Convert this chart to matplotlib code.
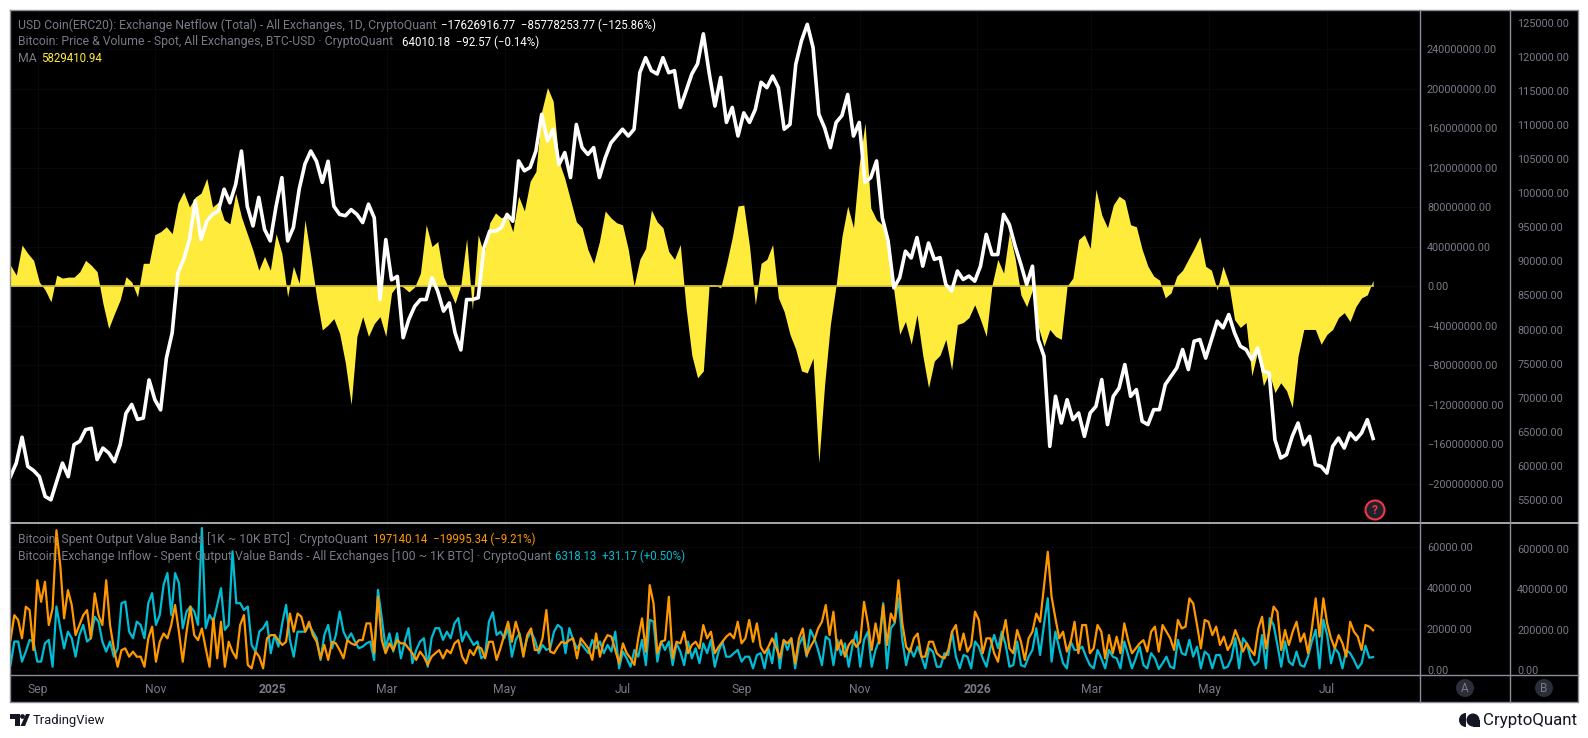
import matplotlib
matplotlib.use('Agg')
import matplotlib.pyplot as plt
from matplotlib.patches import Circle, Polygon, Wedge
import numpy as np
import pandas as pd

plt.rcParams['font.family'] = ['Roboto', 'DejaVu Sans']

W, H = 1588, 738

# 3-day readings, BTC price in USD
btc_price = [
    58440, 60400, 64200, 59900, 59300, 58400, 55500, 55000, 57700, 60400, 58400, 63100, 63600, 65300, 65500, 60900,
    62600, 61900, 60600, 63100, 67700, 69000, 66800, 67000, 72600, 69700, 68200, 75800, 79500, 88300, 90300, 93200,
    98900, 93200, 95900, 96900, 97400, 100600, 98600, 101300, 106200, 98100, 95200, 99400, 94700, 93000, 98100, 102300,
    93000, 95000, 100600, 104300, 106200, 104700, 101600, 104700, 98100, 96900, 96700, 97600, 96900, 95700, 98400, 96400,
    84400, 93200, 87300, 87800, 78800, 81500, 83400, 84400, 84400, 87600, 85600, 82700, 83900, 79500, 77000, 84400, 84400,
    84660, 92000, 94450, 94450, 94950, 96900, 95900, 104750, 103300, 103800, 106200, 111600, 107700, 109400, 104200, 105970,
    102300, 110100, 106700, 105700, 106700, 102300, 105200, 107400, 108400, 109400, 108400, 109400, 117700, 119900, 118000, 117500,
    119900, 117700, 118000, 112600, 115000, 117500, 119000, 123400, 117700, 112800, 117000, 110400, 112600, 108400, 111800, 110400,
    112300, 116300, 115500, 117200, 115500, 109400, 110100, 118900, 122400, 124800, 121400, 111600, 109600, 106700, 110400, 111400,
    114500, 108400, 110400, 101600, 102300, 104750, 96400, 93000, 86100, 87600, 91500, 90500, 93500, 89300, 92700, 90300,
    90550, 86600, 85650, 88580, 87350, 87850, 87100, 89300, 93970, 91000, 91000, 96900, 95400, 92250, 89550, 86600,
    89300, 78530, 76080, 62850, 70200, 66280, 69700, 66770, 67750, 64320, 67750, 68730, 72650, 66040, 70200, 71400,
    74860, 70200, 71180, 66530, 66040, 68240, 68240, 71920, 73140, 74370, 77060, 74120, 78285, 78530, 75800, 78530,
    81225, 80250, 82200, 79500, 77550, 77060, 75590, 77300, 73880, 73630, 63830, 61140, 61630, 64320, 66280, 63100,
    64320, 60160, 59910, 58930, 62850, 64080, 62600, 64810, 63830, 64810, 66770, 64010,
]

# 3-day readings, USDC netflow moving average in millions
netflow_ma = [
    21, 11, 41.5, 33, 26, 4, -4, -16, 11, 8, 9, 9, 14.5, 26, 21, 14.5,
    -17.5, -43, -28, -14, 9.5, 4, -11, 23, 23, 52, 55, 60, 53, 84, 95.5, 80,
    90, 94, 109, 80, 85, 67, 63, 94, 70, 53, 36, 16, 30, 16, 53, 33,
    -11, 20, 2.7, 67, 30, -11, -44.5, -39.5, -33, -48, -78, -120, -51, -31, -51, -38,
    -31, -51, -7, 1, -1, -6, -1, 13, 62, 40, 45, 9.5, -4, -17.5, 1, 48, -24,
    52, 32, 64, 74, 69, 72, 55, 91, 76, 106, 116, 177, 201, 187, 126, 109,
    87, 65, 59, 37, 23, 45, 76, 69, 64, 62, 37, 0, 27, 38, 77, 65,
    59, 35, 27, 42, -22, -70, -93, -86, 1, 1, -2, 22, 49, 81, 82, 40,
    -19, 23, 27, 42, -12, -26, -49, -64, -86, -88, -73, -179, -100, -39, 1, 50,
    81, 59, 123, 165, 79, 67, 62, 38, -5, -49, -36, -59, -29, -70, -103, -76,
    -70, -54, -85, -39, -37, -32, -19, -34, -51, 1, 27, 13, 54, 28, -9, -21,
    -4, -41, -61, -44, -51, -54, 0, 8, 47, 52, 38, 98, 72, 59, 82, 91,
    87, 62, 60, 37, 20, 10, 6, -12, -7, 10, 16, 27, 38, 50, 20, 16,
    -4, 20, 3, -34, -42, -37, -91, -66, -101, -88, -108, -98, -106, -123, -71, -44,
    -44, -44, -59, -49, -44, -32, -27, -36, -21, -12, -9, 5.8,
]

# 2-day readings, spent output 1K-10K BTC in thousands
spent_1k_10k = [
    148, 272, 248, 157, 314, 297, 99, 445, 338, 437, 223, 305, 693, 520, 256, 396, 322, 173, 223, 272, 297, 157, 380, 272,
    223, 445, 223, 107, 16, 99, 107, 66, 91, 66, 66, 16, 157, 215, 41, 140, 181, 157, 223, 322, 190, 41, 190, 314,
    173, 148, 206, 107, 16, 256, 58, 239, 16, 140, 91, 58, 223, 272, 25, 8, 91, 66, 8, 157, 173, 173, 148, 124,
    140, 280, 190, 280, 264, 190, 239, 173, 140, 58, 124, 50, 140, 132, 99, 58, 148, 132, 124, 148, 148, 231, 231, 83,
    363, 148, 83, 132, 99, 148, 132, 132, 107, 83, 50, 91, 66, 25, 66, 83, 99, 58, 99, 83, 132, 148, 66, 33, 99, 74,
    115, 107, 58, 140, 140, 50, 107, 173, 239, 140, 239, 173, 66, 173, 206, 99, 99, 157, 297, 91, 83, 115, 140, 132,
    148, 157, 58, 157, 132, 107, 50, 181, 66, 140, 173, 165, 99, 33, 132, 83, 58, 25, 157, 256, 91, 421, 330, 83,
    140, 148, 363, 58, 140, 132, 190, 83, 124, 140, 107, 223, 157, 190, 83, 115, 140, 165, 181, 157, 239, 132, 157, 248,
    140, 231, 115, 83, 115, 157, 115, 58, 148, 132, 157, 33, 157, 206, 74, 115, 148, 206, 239, 322, 173, 289, 99, 148,
    66, 124, 148, 115, 140, 338, 231, 99, 231, 132, 322, 124, 280, 239, 445, 231, 115, 91, 157, 181, 66, 66, 140, 140, 83,
    66, 58, 99, 190, 223, 99, 181, 91, 124, 289, 248, 83, 157, 157, 83, 41, 157, 248, 107, 83, 198, 140, 50, 157,
    190, 280, 239, 413, 586, 363, 256, 157, 190, 91, 140, 239, 83, 223, 223, 83, 107, 223, 190, 58, 173, 83, 165, 83,
    231, 148, 83, 107, 132, 148, 91, 190, 215, 91, 223, 190, 157, 99, 248, 206, 215, 355, 330, 223, 107, 248, 239, 173,
    215, 124, 165, 99, 132, 198, 148, 91, 132, 99, 74, 206, 264, 107, 206, 314, 289, 99, 198, 124, 190, 239, 140, 181,
    83, 206, 355, 165, 355, 231, 157, 107, 173, 132, 66, 239, 190, 165, 99, 223, 215, 197,
]

# 2-day readings, exchange inflow 100-1K BTC in thousands
inflow_100_1k = [
    2.4, 13.9, 13.9, 4.1, 9, 14.7, 13.9, 4.1, 4.1, 13, 14.7, 1.6, 31, 20.4, 10.6, 18.7, 15.5, 6.5, 17.1, 22, 13.9, 15.5, 26, 23.6,
    13.9, 9, 13.9, 6.5, 10.6, 32.6, 33.4, 18.7, 15.5, 23.6, 22, 15.5, 32.6, 37.5, 22, 26.9, 41.6, 47.3, 26.9, 47.3, 42.4, 20.4, 28.5, 31,
    28.5, 22, 69.3, 20.4, 26.9, 23.6, 31.8, 39.9, 19.6, 22, 57.9, 32.6, 32.6, 29.3, 31, 12.2, 9, 18.7, 20.4, 23.6, 8.2, 17.1, 11.4, 22.8,
    31.8, 14.7, 6.5, 18.7, 18.7, 18.7, 22, 18.7, 15.5, 4.9, 17.1, 22, 10.6, 17.1, 28.5, 18.7, 14.7, 17.9, 13.9, 10.6, 11.4, 13, 13.9, 4.9,
    39.1, 25.3, 10.6, 17.9, 9, 17.9, 5.7, 13.9, 20.4, 3.3, 9.8, 13.9, 15.5, 1.6, 15.5, 20.4, 20.4, 14.7, 18.7, 15.5, 22.8, 25.3, 13.9, 18.7, 15.5, 12.2,
    13.9, 5.7, 7.3, 23.6, 28.2, 17.1, 18.7, 15.5, 20.4, 6.5, 14.7, 17.9, 8.2, 15.5, 18.7, 14.7, 8.2, 12.2, 9.8, 10.6, 18.7, 22, 20.4, 8.2,
    20.4, 14.7, 10.6, 13, 10.6, 8.2, 14.7, 10.6, 13.9, 8.2, 12.2, 9, 18.7, 0.8, 9, 5.7, 1.6, 9.8, 6.5, 14.7, 2.4, 24.5, 23.6, 4.1,
    13.9, 9.8, 13.9, 2.4, 13, 9, 2.4, 13.9, 5.7, 10.6, 3.3, 13, 8.2, 14.7, 1.6, 9, 13.9, 6.5, 6.5, 8.2, 9.8, 4.1, 6.5, 6.5,
    0.8, 7.3, 8.2, 0.8, 10.6, 3.3, 17.9, 0.8, 14.7, 9.8, 15.5, 0.8, 12.2, 16.3, 6.5, 19.6, 15.5, 9.8, 2.4, 16.3, 14.7, 2.4, 14.7, 7.3,
    13, 1.6, 12.2, 18.7, 1.6, 14.7, 18.7, 1.6, 9.8, 14.7, 32.6, 0.8, 20.4, 22.8, 35, 14.7, 2.4, 10.6, 6.5, 11.4, 6.5, 0.8, 10.6, 9, 1.6,
    1.6, 8.2, 7.3, 18.7, 6.5, 0.8, 7.3, 6.5, 0.8, 13.9, 11.4, 5.7, 1.6, 10.6, 17.1, 10.6, 18.7, 12.2, 1.6, 2.4, 13.9, 2.4, 1.6,
    6.5, 9.8, 20.4, 7.3, 22, 35, 4.1, 18.7, 10.6, 3.3, 0.8, 13.9, 9.8, 9.8, 11.4, 6.5, 2.4, 0.8, 9.8, 5.7, 0.8, 9.8, 6.5, 5.7,
    0.8, 13.9, 7.3, 0.8, 5.7, 11.4, 2.4, 0.8, 8.2, 5.7, 0.5, 3.3, 6.5, 1.6, 0.8, 14.7, 8.2, 7.3, 14.7, 6.5, 11.4, 0.8, 9, 7.3,
    0.8, 7.3, 7.3, 0.8, 1.6, 5.7, 15.5, 0.8, 15.5, 13, 5.7, 2.4, 4.1, 17.1, 0.8, 25.3, 22, 12.2, 1.6, 13.9, 4.1, 2.4, 9, 2.4,
    1.6, 6.5, 13.9, 19.6, 0.8, 24.5, 17.1, 3.3, 10.6, 8.2, 0.8, 9.8, 8.2, 4.9, 0.8, 3.3, 11.9, 6.0, 6.3,
]

month_ticks = ['2024-09-01', '2024-11-01', '2025-01-01', '2025-03-01', '2025-05-01', '2025-07-01',
               '2025-09-01', '2025-11-01', '2026-01-01', '2026-03-01', '2026-05-01', '2026-07-01']
month_labels = ['Sep', 'Nov', '2025', 'Mar', 'May', 'Jul', 'Sep', 'Nov', '2026', 'Mar', 'May', 'Jul']
price_ticks = list(range(55000, 125001, 5000))
netflow_ticks = [v * 1e6 for v in range(-200, 241, 40)]
inflow_ticks = [0, 20000, 40000, 60000]
spent_ticks = [0, 200000, 400000, 600000]

GRAY = '#787b86'
GRID = '#08080a'
WHITE = '#ffffff'
YELLOW = '#ffeb3b'
ORANGE = '#ff9800'
CYAN = '#00bcd4'

START = pd.Timestamp('2024-08-18')
END = pd.Timestamp('2026-07-25')


def series_dates(values):
    return pd.date_range(START, END, periods=len(values))


def fmt(v):
    return f'{v:.2f}'.replace('-', '\u2212')


def rect_px(left, top, right, bottom):
    return [left / W, 1 - bottom / H, (right - left) / W, (bottom - top) / H]


def style_right(ax, ticks, pad):
    ax.yaxis.tick_right()
    ax.set_yticks(ticks)
    ax.set_yticklabels([fmt(t) for t in ticks])
    ax.tick_params(axis='y', length=0, pad=pad, labelsize=7.8, labelcolor=GRAY)
    ax.grid(False)
    for s in ax.spines.values():
        s.set_visible(False)


fig = plt.figure(figsize=(W / 100, H / 100), dpi=100, facecolor='white')

# black chart background
bg = fig.add_axes([0, 0, 1, 1], zorder=0)
bg.set_xlim(0, W)
bg.set_ylim(H, 0)
bg.axis('off')
bg.fill_between([10, 1578], 10, 702, color='black', lw=0)

x_left = START + pd.Timedelta(days=-0.26)
x_right = START + pd.Timedelta(days=730.3)

# top panel
ax_net = fig.add_axes(rect_px(10, 10, 1420, 523), zorder=1, facecolor='black')
net = np.array(netflow_ma) * 1e6
ax_net.fill_between(series_dates(net), 0, net, color=YELLOW, lw=0)
ax_net.plot(series_dates(net), np.zeros(len(net)), color='#d8c733', lw=1.2)
ax_net.set_xlim(x_left, x_right)
ax_net.set_ylim(-240e6, 279.5e6)
style_right(ax_net, netflow_ticks, 5)
ax_net.set_xticks(pd.to_datetime(month_ticks))
ax_net.tick_params(axis='x', length=0, labelbottom=False)
ax_net.grid(True, color=GRID, lw=0.8)
ax_net.set_axisbelow(True)

ax_price = fig.add_axes(rect_px(10, 10, 1420, 523), zorder=2)
ax_price.patch.set_visible(False)
ax_price.plot(series_dates(btc_price), btc_price, color=WHITE, lw=2.6, solid_joinstyle='round')
ax_price.set_xlim(x_left, x_right)
ax_price.set_ylim(51600, 126900)
style_right(ax_price, price_ticks, 70)
ax_price.set_xticks([])

# bottom panel
ax_in = fig.add_axes(rect_px(10, 523, 1420, 675), zorder=1, facecolor='black')
inflow = np.array(inflow_100_1k) * 1000
ax_in.plot(series_dates(inflow), inflow, color=CYAN, lw=1.6)
ax_in.set_xlim(x_left, x_right)
ax_in.set_ylim(-2440, 71736)
style_right(ax_in, inflow_ticks, 5)
ax_in.set_xticks(pd.to_datetime(month_ticks))
ax_in.set_xticklabels(month_labels)
ax_in.tick_params(axis='x', length=0, pad=6, labelsize=8.7, labelcolor=GRAY)
for lab in ax_in.get_xticklabels():
    if lab.get_text().startswith('20'):
        lab.set_fontweight('bold')
ax_in.grid(True, color=GRID, lw=0.8)
ax_in.set_axisbelow(True)

ax_spent = fig.add_axes(rect_px(10, 523, 1420, 675), zorder=2)
ax_spent.patch.set_visible(False)
spent = np.array(spent_1k_10k) * 1000
ax_spent.plot(series_dates(spent), spent, color=ORANGE, lw=1.6)
ax_spent.set_xlim(x_left, x_right)
ax_spent.set_ylim(-24790, 728800)
style_right(ax_spent, spent_ticks, 70)
ax_spent.set_xticks([])

# overlay in pixel coordinates: frame, legends, icons, logos
ov = fig.add_axes([0, 0, 1, 1], zorder=5)
ov.set_xlim(0, W)
ov.set_ylim(H, 0)
ov.axis('off')
ov.patch.set_visible(False)

frame = '#8b8e99'
ov.plot([10, 1578, 1578, 10, 10], [10, 10, 702, 702, 10], color=frame, lw=1)
ov.plot([10, 1578], [523, 523], color='#d1d4dc', lw=1.1)
ov.plot([10, 1578], [675, 675], color=frame, lw=1)
ov.plot([1420, 1420], [10, 702], color=frame, lw=1)
ov.plot([1510, 1510], [10, 702], color=frame, lw=1)


def legend(x, y, s, c=GRAY, fs=8.8):
    ov.text(x, y, s, color=c, fontsize=fs, va='center', ha='left')


legend(18, 25, 'USD Coin(ERC20): Exchange Netflow (Total) - All Exchanges, 1D, CryptoQuant')
legend(441, 25, '\u221217626916.77  \u221285778253.77 (\u2212125.86%)', WHITE, 8.3)
legend(18, 42, 'Bitcoin: Price & Volume - Spot, All Exchanges, BTC-USD \u00b7 CryptoQuant')
legend(402, 42, '64010.18  \u221292.57 (\u22120.14%)', WHITE, 8.3)
legend(18, 59, 'MA')
legend(41, 59, '5829410.94', YELLOW, 8.3)
legend(18, 539, 'Bitcoin: Spent Output Value Bands [1K ~ 10K BTC] \u00b7 CryptoQuant')
legend(373, 539, '197140.14  \u221219995.34 (\u22129.21%)', ORANGE, 8.3)
legend(18, 556, 'Bitcoin: Exchange Inflow - Spent Output Value Bands - All Exchanges [100 ~ 1K BTC] \u00b7 CryptoQuant')
legend(555, 556, '6318.13  +31.17 (+0.50%)', CYAN, 8.3)

# warning badge and scale badges
ov.add_patch(Circle((1375, 510), 9.5, fc='#1e222d', ec='#f23645', lw=1.5))
ov.text(1375, 510, '?', color='#f23645', fontsize=8.5, weight='bold', ha='center', va='center')
for cx, s in [(1465, 'A'), (1544, 'B')]:
    ov.add_patch(Circle((cx, 688), 9, fc='#2a2e39', ec='none'))
    ov.text(cx, 688, s, color=GRAY, fontsize=8.5, ha='center', va='center')

# TradingView logo
ov.add_patch(Polygon([(10, 714), (20, 714), (20, 726), (15, 726), (15, 719), (10, 719)], fc='#131722', ec='none'))
ov.add_patch(Circle((22.5, 716.5), 2.4, fc='#131722', ec='none'))
ov.add_patch(Polygon([(26, 714), (30, 714), (25, 726), (20.5, 726)], fc='#131722', ec='none'))
ov.text(33, 720.5, 'TradingView', color='#131722', fontsize=9.4, va='center', ha='left')

# CryptoQuant logo
ov.add_patch(Wedge((1466, 720), 7, 90, 270, fc='#131722', ec='none'))
ov.add_patch(Circle((1473, 720), 6.5, fc='#131722', ec='none'))
ov.add_patch(Polygon([(1473, 720), (1480, 720), (1480, 727), (1473, 727)], fc='#131722', ec='none'))
ov.text(1483, 720, 'CryptoQuant', color='#131722', fontsize=12.2, va='center', ha='left')

fig.savefig('out.png', dpi=100, facecolor='white')
